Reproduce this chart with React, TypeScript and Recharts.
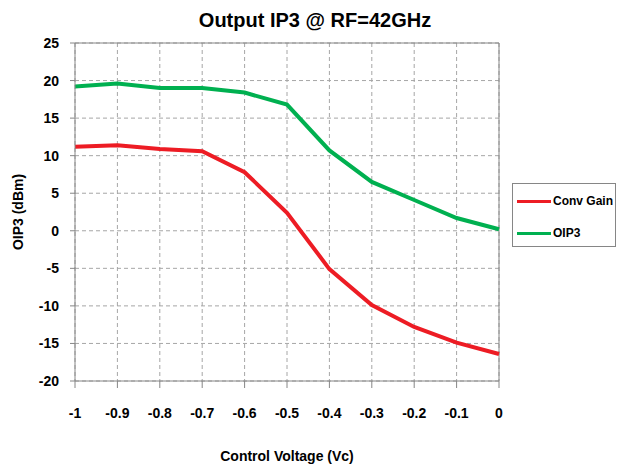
import { LineChart, Line, XAxis, YAxis, CartesianGrid, ReferenceLine } from 'recharts';

const voltages = [-1, -0.9, -0.8, -0.7, -0.6, -0.5, -0.4, -0.3, -0.2, -0.1, 0];
const convGain = [11.2, 11.4, 10.9, 10.6, 7.8, 2.4, -5.1, -9.9, -12.8, -14.9, -16.4];
const oip3 = [19.2, 19.6, 19.0, 19.0, 18.4, 16.8, 10.7, 6.5, 4.1, 1.7, 0.2];
const yTicks = [-20, -15, -10, -5, 0, 5, 10, 15, 20, 25];

const data = voltages.map((v, i) => ({ vc: v, gain: convGain[i], oip3: oip3[i] }));

const FONT = '"Liberation Sans", Arial, sans-serif';
const AXIS = '#868686';

const series = [
  { key: 'gain', label: 'Conv Gain', color: '#ED1C24' },
  { key: 'oip3', label: 'OIP3', color: '#00B050' },
];

function LegendBox() {
  return (
    <div
      style={{
        position: 'absolute',
        left: 512,
        top: 183,
        border: `1px solid ${AXIS}`,
        width: 104,
        height: 64,
        boxSizing: 'border-box',
        padding: '9px 0 0 4px',
        fontFamily: FONT,
        fontWeight: 'bold',
        fontSize: 12,
        background: '#fff',
        whiteSpace: 'nowrap',
      }}
    >
      {series.map((it) => (
        <div key={it.key} style={{ display: 'flex', alignItems: 'center', height: 16, marginBottom: 16 }}>
          <div style={{ width: 34, height: 3, background: it.color, marginRight: 2 }} />
          <span style={{ color: '#000' }}>{it.label}</span>
        </div>
      ))}
    </div>
  );
}

export default function App() {
  return (
    <div style={{ position: 'absolute', left: 0, top: 0, width: 619, height: 469, background: '#fff' }}>
      <div
        style={{
          position: 'absolute',
          top: 9,
          left: 0,
          width: 630,
          textAlign: 'center',
          fontFamily: FONT,
          fontWeight: 'bold',
          fontSize: 20,
          color: '#000',
        }}
      >
        Output IP3 @ RF=42GHz
      </div>
      <LineChart width={619} height={469} data={data} margin={{ top: 43, right: 120, bottom: 58, left: 20 }}>
        <CartesianGrid stroke="#a6a6a6" strokeDasharray="4 3" />
        <XAxis
          dataKey="vc"
          type="number"
          domain={[-1, 0]}
          ticks={voltages}
          interval={0}
          height={30}
          tickFormatter={(v: number) => String(v)}
          tick={{ fill: '#000', fontSize: 14, fontWeight: 'bold', fontFamily: FONT }}
          axisLine={{ stroke: AXIS }}
          tickLine={{ stroke: AXIS }}
          tickSize={7}
          tickMargin={20}
          label={{
            value: 'Control Voltage (Vc)',
            position: 'bottom',
            offset: 40,
            style: { fill: '#000', fontSize: 14, fontWeight: 'bold', fontFamily: FONT },
          }}
        />
        <YAxis
          type="number"
          domain={[-20, 25]}
          ticks={yTicks}
          interval={0}
          width={55}
          tick={{ fill: '#000', fontSize: 14, fontWeight: 'bold', fontFamily: FONT }}
          axisLine={{ stroke: AXIS }}
          tickLine={{ stroke: AXIS }}
          tickSize={5}
          tickMargin={11}
          label={{
            value: 'OIP3 (dBm)',
            angle: -90,
            position: 'insideLeft',
            offset: -2,
            style: { textAnchor: 'middle', fill: '#000', fontSize: 14, fontWeight: 'bold', fontFamily: FONT },
          }}
        />
        <ReferenceLine y={25} stroke={AXIS} />
        <ReferenceLine x={0} stroke={AXIS} />
        {series.map((s) => (
          <Line
            key={s.key}
            dataKey={s.key}
            name={s.label}
            stroke={s.color}
            strokeWidth={4}
            dot={false}
            isAnimationActive={false}
          />
        ))}
      </LineChart>
      <LegendBox />
    </div>
  );
}
